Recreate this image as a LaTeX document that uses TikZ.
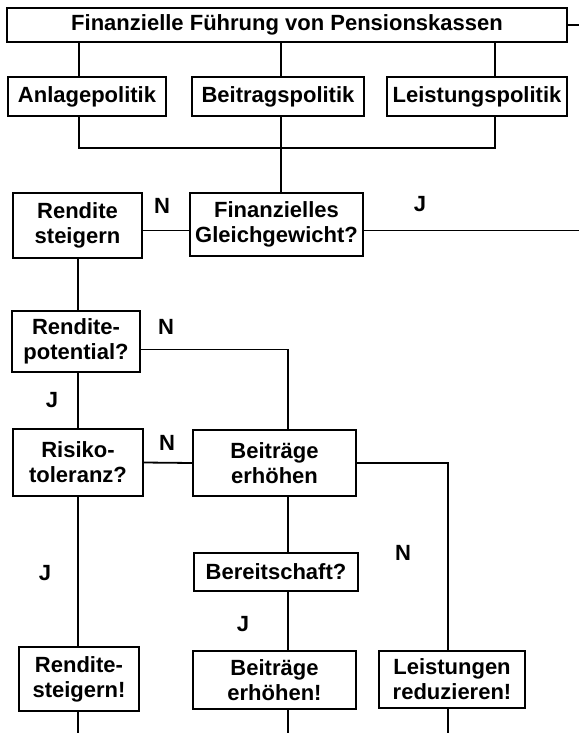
\documentclass[tikz,border=0pt]{standalone}
\usepackage{fontspec}
\setmainfont{Liberation Sans}
\usetikzlibrary{calc}

\begin{document}
\begin{tikzpicture}[x=1pt,y=-1pt,
  box/.style={rectangle,draw,line width=1.3pt,inner sep=0pt,align=center,
    font=\bfseries\fontsize{22}{25}\selectfont},
  ln/.style={line width=1.8pt},
  yn/.style={font=\bfseries\fontsize{22}{25}\selectfont},
]
  \useasboundingbox (0,0) rectangle (579,733);
  % columns and rails
  \coordinate (cA) at (79,0);
  \coordinate (cB) at (281,0);
  \coordinate (cC) at (495,0);
  \coordinate (cL) at (78,0);
  \coordinate (cM) at (288,0);
  \coordinate (cR) at (448,0);
  \coordinate (bus) at (0,148);
  \coordinate (edgeR) at (579,0);
  \coordinate (edgeB) at (0,733);

  % boxes
  \node[box,minimum width=560pt,minimum height=34pt] (fuehrung) at (287,25) {Finanzielle Führung von Pensionskassen};
  \node[box,minimum width=158pt,minimum height=39pt] (anlage) at (87,96.5) {Anlagepolitik};
  \node[box,minimum width=172pt,minimum height=39pt] (beitrag) at (278,96.5) {Beitragspolitik};
  \node[box,minimum width=180pt,minimum height=39pt] (leistung) at (477,96.5) {Leistungspolitik};
  \node[box,minimum width=129pt,minimum height=65pt] (rsteig) at (77.5,225.5) {Rendite\\steigern};
  \node[box,minimum width=173pt,minimum height=63pt] (gleich) at (276.5,224.5) {Finanzielles\\Gleichgewicht?};
  \node[box,minimum width=128pt,minimum height=61pt] (rpot) at (76,341.5) {Rendite-\\potential?};
  \node[box,minimum width=130pt,minimum height=67pt] (risiko) at (78,462.5) {Risiko-\\toleranz?};
  \node[box,minimum width=163pt,minimum height=66pt] (berh) at (274.5,463) {Beiträge\\erhöhen};
  \node[box,minimum width=164pt,minimum height=38pt] (bereit) at (276,572) {Bereitschaft?};
  \node[box,minimum width=120pt,minimum height=64pt] (rsteigA) at (79,679) {Rendite-\\steigern!};
  \node[box,minimum width=163pt,minimum height=58pt] (berhA) at (274.5,680) {Beiträge\\erhöhen!};
  \node[box,minimum width=146pt,minimum height=57pt] (lred) at (452,679.5) {Leistungen\\reduzieren!};

  % answers
  \node[yn] (n1) at (162,206) {N};
  \node[yn] (j1) at (420,204) {J};
  \node[yn] (n2) at (166,327) {N};
  \node[yn] (j2) at (52,400) {J};
  \node[yn] (n3) at (167,443) {N};
  \node[yn] (j3) at (45,573) {J};
  \node[yn] (n4) at (403,553) {N};
  \node[yn] (j4) at (243,624) {J};

  % top part
  \draw[ln] (fuehrung.east) -- (fuehrung.east -| edgeR);
  \draw[ln] (fuehrung.south -| cA) -- (anlage.north -| cA);
  \draw[ln] (fuehrung.south -| cB) -- (beitrag.north -| cB);
  \draw[ln] (fuehrung.south -| cC) -- (leistung.north -| cC);
  \draw[ln] (anlage.south -| cA) -- (cA |- bus) -- (cC |- bus) -- (leistung.south -| cC);
  \draw[ln] (beitrag.south -| cB) -- (gleich.north -| cB);

  % decisions
  \draw[ln] ([yshift=-6pt]gleich.west) -- ([yshift=-6pt]gleich.west -| rsteig.east);
  \draw[ln] ([yshift=-6pt]gleich.east) -- ([yshift=-6pt]gleich.east -| edgeR);
  \draw[ln] (rsteig.south -| cL) -- (rpot.north -| cL);
  \draw[ln] ([yshift=-8pt]rpot.east) -- ([yshift=-8pt]rpot.east -| cM) -- (berh.north -| cM);
  \draw[ln] (rpot.south -| cL) -- (risiko.north -| cL);
  \draw[ln] (risiko.east) -- (berh.west);
  \draw[ln] (berh.east) -- (berh.east -| cR) -- (lred.north -| cR);
  \draw[ln] (berh.south -| cM) -- (bereit.north -| cM);
  \draw[ln] (bereit.south -| cM) -- (berhA.north -| cM);
  \draw[ln] (risiko.south -| cL) -- (rsteigA.north -| cL);

  % exits
  \draw[ln] (rsteigA.south -| cL) -- (cL |- edgeB);
  \draw[ln] (berhA.south -| cM) -- (cM |- edgeB);
  \draw[ln] (lred.south -| cR) -- (cR |- edgeB);
\end{tikzpicture}
\end{document}
